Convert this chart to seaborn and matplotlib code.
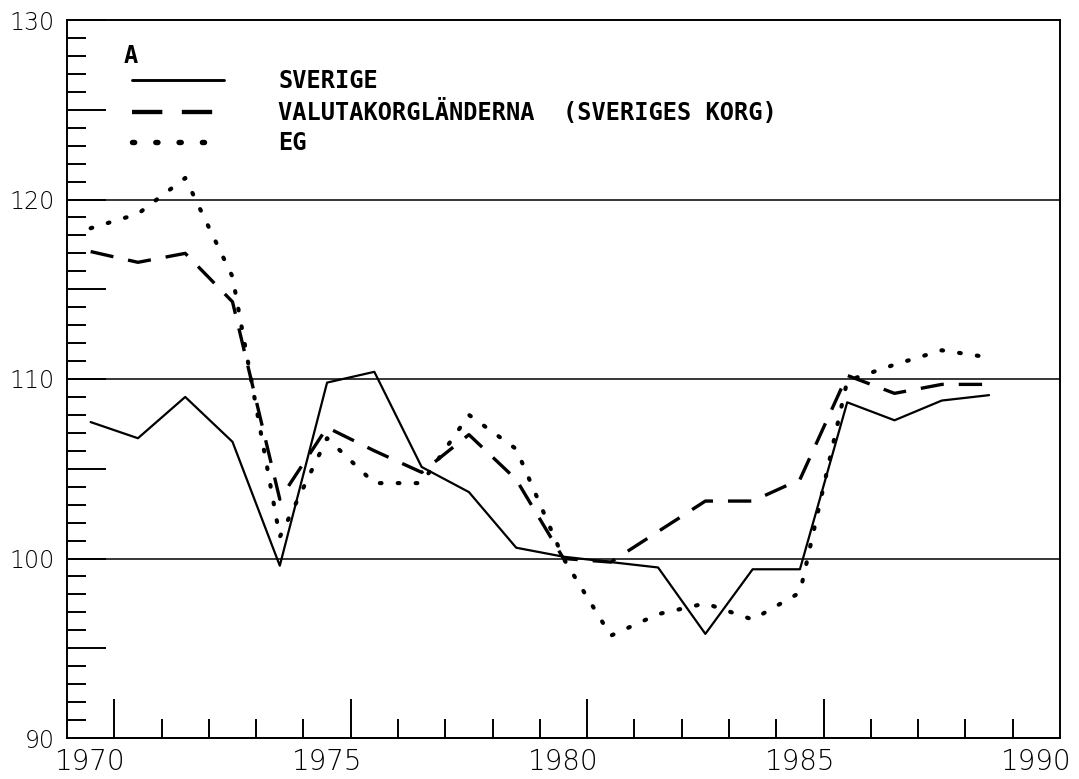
import matplotlib
matplotlib.use("Agg")
import matplotlib.pyplot as plt
import numpy as np
import pandas as pd
import seaborn as sns
from matplotlib.ticker import FixedLocator, MultipleLocator, FuncFormatter

years = list(range(1970, 1990))
sverige = [107.6, 106.7, 109.0, 106.5, 99.6, 109.8, 110.4, 105.1, 103.7, 100.6,
           100.1, 99.8, 99.5, 95.8, 99.4, 99.4, 108.7, 107.7, 108.8, 109.1]
valutakorg = [117.1, 116.5, 117.0, 114.3, 103.3, 107.3, 106.0, 104.8, 106.9, 104.4,
              100.0, 99.8, 101.5, 103.2, 103.2, 104.4, 110.2, 109.2, 109.7, 109.7]
eg = [118.4, 119.2, 121.2, 115.7, 101.2, 106.7, 104.2, 104.2, 108.0, 106.1,
      100.0, 95.7, 96.9, 97.5, 96.6, 98.1, 109.9, 110.8, 111.6, 111.2]

series_names = ["SVERIGE", "VALUTAKORGLÄNDERNA  (SVERIGES KORG)", "EG"]
gridlines = [100, 110, 120]
x_labels = [1970, 1975, 1980, 1985, 1990]

sns.set_style("white")
plt.rcParams['font.family'] = ['DejaVu Sans']
plt.rcParams['text.color'] = 'black'
plt.rcParams['xtick.color'] = 'black'
plt.rcParams['ytick.color'] = 'black'

fig = plt.figure(figsize=(10.79, 7.79), dpi=100)
ax = fig.add_axes([67 / 1079, 1 - 738 / 779, (1060 - 67) / 1079, (738 - 20) / 779])

df = pd.DataFrame({"year": years, series_names[0]: sverige,
                   series_names[1]: valutakorg, series_names[2]: eg})

sns.lineplot(data=df, x="year", y=series_names[0], ax=ax, color="black",
             linewidth=1.6, label=series_names[0])
sns.lineplot(data=df, x="year", y=series_names[1], ax=ax, color="black",
             linewidth=2.4, dashes=(7, 4.5), label=series_names[1])
sns.lineplot(data=df, x="year", y=series_names[2], ax=ax, color="black",
             linewidth=3.0, dashes=(0.4, 3.9), dash_capstyle="round", label=series_names[2])

for g in gridlines:
    ax.axhline(g, color="black", linewidth=1.1, zorder=1)

ax.set_xlim(1969.5, 1990.5)
ax.set_ylim(90, 130)
ax.set_xlabel("")
ax.set_ylabel("")

for s in ax.spines.values():
    s.set_color("black")
    s.set_linewidth(1.4)

# y axis: labels every 10, long ticks every 5, short every 1
ax.yaxis.set_major_locator(MultipleLocator(5))
ax.yaxis.set_minor_locator(MultipleLocator(1))
ax.yaxis.set_major_formatter(FuncFormatter(lambda v, p: f"{v:.0f}" if v % 10 == 0 else ""))
ax.tick_params(axis="y", which="major", direction="in", length=28, width=1.4,
               labelsize=17, pad=9, left=True, labelcolor="black")
ax.tick_params(axis="y", which="minor", direction="in", length=14, width=1.4, left=True)

# x axis: labels at years, tick marks between years
ax.xaxis.set_major_locator(FixedLocator(x_labels))
ax.xaxis.set_major_formatter(FuncFormatter(lambda v, p: f"{v:.0f}"))
ax.tick_params(axis="x", which="major", length=0, labelsize=20, pad=7, labelcolor="black")

sec = ax.secondary_xaxis("bottom")
sec.xaxis.set_major_locator(FixedLocator([1970.5, 1975.5, 1980.5, 1985.5]))
sec.xaxis.set_minor_locator(FixedLocator(np.arange(1971.5, 1990, 1.0)))
sec.tick_params(axis="x", which="major", direction="in", length=28, width=1.4,
                labelbottom=False, color="black")
sec.tick_params(axis="x", which="minor", direction="in", length=14, width=1.4, color="black")
sec.spines["bottom"].set_linewidth(1.4)
sec.spines["bottom"].set_color("black")

for lab in ax.get_xticklabels() + ax.get_yticklabels():
    lab.set_fontweight("light")
    lab.set_color("black")

leg = ax.legend(loc="upper left", bbox_to_anchor=(0.0655, 0.932), frameon=False,
                borderpad=0, borderaxespad=0, handlelength=3.9, handletextpad=2.3,
                labelspacing=0.26,
                prop={"family": "DejaVu Sans Mono", "weight": "bold", "size": 17})
for line in leg.get_lines():
    line.set_linewidth(line.get_linewidth() * 1.3)

ax.text(0.057, 0.95, "A", transform=ax.transAxes, ha="left", va="center",
        fontsize=17, fontweight="bold", family="DejaVu Sans Mono")

fig.savefig("out.png", dpi=100)
